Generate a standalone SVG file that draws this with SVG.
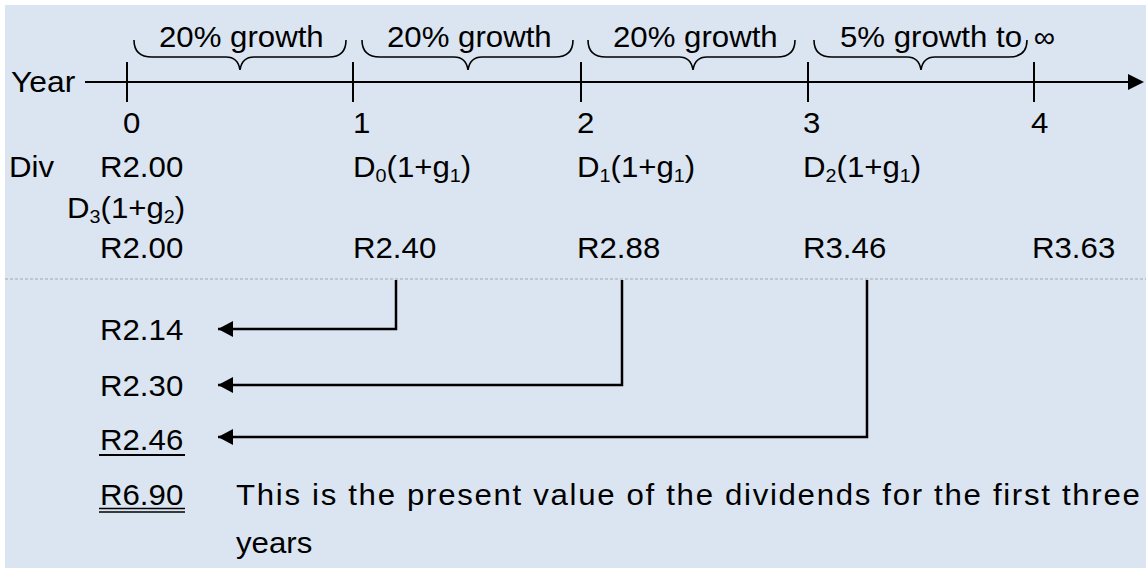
<svg xmlns="http://www.w3.org/2000/svg" width="1146" height="568" viewBox="0 0 1146 568">
<defs>
<style>
text{font-family:"Liberation Sans",Arial,sans-serif;font-size:30px;fill:#000}
.sub{font-size:19px}
.axis{stroke:#000;stroke-width:2;fill:none}
.brace{stroke:#000;stroke-width:1.6;fill:none}
.conn{stroke:#000;stroke-width:2.5;fill:none}
</style>
<marker id="ah" markerWidth="16" markerHeight="16" refX="15" refY="8" orient="auto" markerUnits="userSpaceOnUse">
<path d="M0,0 L15,8 L0,16 Z" fill="#000"/>
</marker>
</defs>
<rect x="5" y="5" width="1141" height="563" fill="#DBE5F1"/>

<g id="timeline">
<line class="axis" x1="85" y1="82" x2="1131" y2="82"/>
<path d="M1128,74 L1144,82 L1128,90 Z" fill="#000"/>
<line class="axis" x1="127" y1="62" x2="127" y2="102"/>
<line class="axis" x1="353" y1="62" x2="353" y2="102"/>
<line class="axis" x1="581" y1="62" x2="581" y2="102"/>
<line class="axis" x1="808" y1="62" x2="808" y2="102"/>
<line class="axis" x1="1034" y1="62" x2="1034" y2="102"/>
<text transform="translate(11,92) scale(1.06,1)">Year</text>
</g>

<g id="brace1">
<path class="brace" d="M134,40 Q134,57 152,57 L226,57 Q238,57 240,70 Q242,57 254,57 L329,57 Q346,57 346,40"/>
<text transform="translate(159,47) scale(1.04,1)">20% growth</text>
</g>
<g id="brace2">
<path class="brace" d="M362,40 Q362,57 380,57 L454,57 Q466,57 468,70 Q470,57 482,57 L555,57 Q573,57 573,40"/>
<text transform="translate(387,47) scale(1.04,1)">20% growth</text>
</g>
<g id="brace3">
<path class="brace" d="M588,40 Q588,57 606,57 L679,57 Q691,57 693,70 Q695,57 707,57 L777,57 Q795,57 795,40"/>
<text transform="translate(613,47) scale(1.04,1)">20% growth</text>
</g>
<g id="brace4">
<path class="brace" d="M814,40 Q814,57 832,57 L907,57 Q919,57 921,70 Q923,57 935,57 L1009,57 Q1027,57 1027,40"/>
<text transform="translate(840,47) scale(1.04,1)">5% growth to <tspan style="font-size:29px" dx="3">∞</tspan></text>
</g>

<g id="years">
<text transform="translate(123,133) scale(1.04,1)">0</text>
<text transform="translate(353,133) scale(1.04,1)">1</text>
<text transform="translate(577,133) scale(1.04,1)">2</text>
<text transform="translate(803,133) scale(1.04,1)">3</text>
<text transform="translate(1031,133) scale(1.04,1)">4</text>
</g>

<g id="div-row">
<text transform="translate(9,177) scale(1.04,1)">Div</text>
<text transform="translate(100,177) scale(1.04,1)">R2.00</text>
<text transform="translate(353,177) scale(1.04,1)">D<tspan class="sub" dy="5">0</tspan><tspan dy="-5">(1+g</tspan><tspan class="sub" dy="5">1</tspan><tspan dy="-5">)</tspan></text>
<text transform="translate(577,177) scale(1.04,1)">D<tspan class="sub" dy="5">1</tspan><tspan dy="-5">(1+g</tspan><tspan class="sub" dy="5">1</tspan><tspan dy="-5">)</tspan></text>
<text transform="translate(803,177) scale(1.04,1)">D<tspan class="sub" dy="5">2</tspan><tspan dy="-5">(1+g</tspan><tspan class="sub" dy="5">1</tspan><tspan dy="-5">)</tspan></text>
<text transform="translate(67,218) scale(1.04,1)">D<tspan class="sub" dy="5">3</tspan><tspan dy="-5">(1+g</tspan><tspan class="sub" dy="5">2</tspan><tspan dy="-5">)</tspan></text>
</g>

<g id="value-row">
<text transform="translate(100,258) scale(1.04,1)">R2.00</text>
<text transform="translate(353,258) scale(1.04,1)">R2.40</text>
<text transform="translate(577,258) scale(1.04,1)">R2.88</text>
<text transform="translate(803,258) scale(1.04,1)">R3.46</text>
<text transform="translate(1032,258) scale(1.04,1)">R3.63</text>
</g>

<line x1="5" y1="279" x2="1146" y2="279" stroke="#A6A6A6" stroke-width="1.2" stroke-dasharray="3,2"/>

<g id="connectors">
<path class="conn" d="M396,280 V329 H218" marker-end="url(#ah)"/>
<path class="conn" d="M622,280 V385 H218" marker-end="url(#ah)"/>
<path class="conn" d="M867,280 V437 H218" marker-end="url(#ah)"/>
</g>

<g id="pv">
<text transform="translate(100,340) scale(1.04,1)">R2.14</text>
<text transform="translate(100,396) scale(1.04,1)">R2.30</text>
<text transform="translate(100,450) scale(1.04,1)">R2.46</text>
<line x1="99" y1="455" x2="185" y2="455" stroke="#000" stroke-width="2"/>
<text transform="translate(100,505) scale(1.04,1)">R6.90</text>
<line x1="99" y1="508.5" x2="185" y2="508.5" stroke="#000" stroke-width="1.5"/>
<line x1="99" y1="512" x2="185" y2="512" stroke="#000" stroke-width="1.5"/>
<text transform="translate(236,505) scale(1.04,1)" textLength="869" lengthAdjust="spacing">This is the present value of the dividends for the first three</text>
<text transform="translate(236,553) scale(1.04,1)">years</text>
</g>
</svg>
